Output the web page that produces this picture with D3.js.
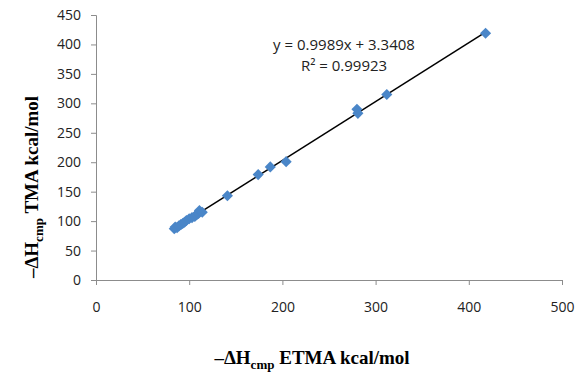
<!DOCTYPE html>
<html>
<head>
<meta charset="utf-8">
<script src="https://cdn.jsdelivr.net/npm/d3@7"></script>
<style>
  body { margin: 0; background: #fff; }
  .tick text { font-family: "Open Sans", "Liberation Sans", sans-serif; font-size: 14px; fill: #222; }
  .axis-title { font-family: "Liberation Serif", "DejaVu Serif", serif; font-weight: bold; font-size: 19px; fill: #000; }
  .eq { font-family: "Open Sans", "Liberation Sans", sans-serif; font-size: 15px; fill: #222; }
</style>
</head>
<body>
<div id="chart"></div>
<script>
// ETMA vs TMA enthalpies (kcal/mol)
const etma = [84, 85, 87, 89, 91, 93, 95, 97, 100, 103, 106, 108, 110, 111, 114, 141, 174, 187, 204, 280, 281, 312, 418];
const tma  = [87, 90, 89, 92, 94, 96, 98, 101, 104, 106, 108, 111, 113, 118, 115, 143, 179, 192, 201, 290, 283, 315, 419];
const xTicks = [0, 100, 200, 300, 400, 500];
const yTicks = [0, 50, 100, 150, 200, 250, 300, 350, 400, 450];
const slope = 0.9989;
const intercept = 3.3408;
const rSquared = '0.99923';

const width = 577, height = 372;
const margin = { top: 15, right: 15, bottom: 92, left: 96 };

const svg = d3.select('#chart')
  .append('svg')
  .attr('width', width)
  .attr('height', height);

const x = d3.scaleLinear().domain([0, 500]).range([margin.left, width - margin.right]);
const y = d3.scaleLinear().domain([0, 450]).range([height - margin.bottom, margin.top]);

const axisColor = '#8c8c8c';

const gx = svg.append('g')
  .attr('transform', `translate(0,${y(0)})`)
  .call(d3.axisBottom(x).tickValues(xTicks).tickSize(5).tickPadding(17));
const gy = svg.append('g')
  .attr('transform', `translate(${x(0)},0)`)
  .call(d3.axisLeft(y).tickValues(yTicks).tickSize(5).tickPadding(10));

[gx, gy].forEach(g => {
  g.select('.domain').attr('stroke', axisColor);
  g.selectAll('.tick line').attr('stroke', axisColor);
});

// trendline over the data range
const xMin = d3.min(etma), xMax = d3.max(etma);
svg.append('line')
  .attr('x1', x(xMin)).attr('y1', y(slope * xMin + intercept))
  .attr('x2', x(xMax)).attr('y2', y(slope * xMax + intercept))
  .attr('stroke', '#000')
  .attr('stroke-width', 1.5);

// diamond markers
const pts = etma.map((d, i) => ({ x: d, y: tma[i] }));
svg.append('g')
  .selectAll('path')
  .data(pts)
  .join('path')
  .attr('d', d3.symbol().type(d3.symbolSquare).size(62))
  .attr('transform', d => `translate(${x(d.x)},${y(d.y)}) rotate(45)`)
  .attr('fill', '#4a86c8');

// trendline equation
svg.append('text').attr('class', 'eq')
  .attr('x', 344).attr('y', 50)
  .attr('text-anchor', 'middle')
  .text(`y = ${slope}x + ${intercept}`);
svg.append('text').attr('class', 'eq')
  .attr('x', 344).attr('y', 71)
  .attr('text-anchor', 'middle')
  .text(`R² = ${rSquared}`);

// axis titles
const xt = svg.append('text').attr('class', 'axis-title')
  .attr('x', 312).attr('y', 364)
  .attr('text-anchor', 'middle');
xt.append('tspan').text('–ΔH');
xt.append('tspan').attr('dy', 5).attr('font-size', 13).text('cmp');
xt.append('tspan').attr('dy', -5).text(' ETMA kcal/mol');

const yt = svg.append('text').attr('class', 'axis-title')
  .attr('transform', 'translate(38,187) rotate(-90)')
  .attr('text-anchor', 'middle');
yt.append('tspan').text('–ΔH');
yt.append('tspan').attr('dy', 5).attr('font-size', 13).text('cmp');
yt.append('tspan').attr('dy', -5).text(' TMA kcal/mol');
</script>
</body>
</html>
